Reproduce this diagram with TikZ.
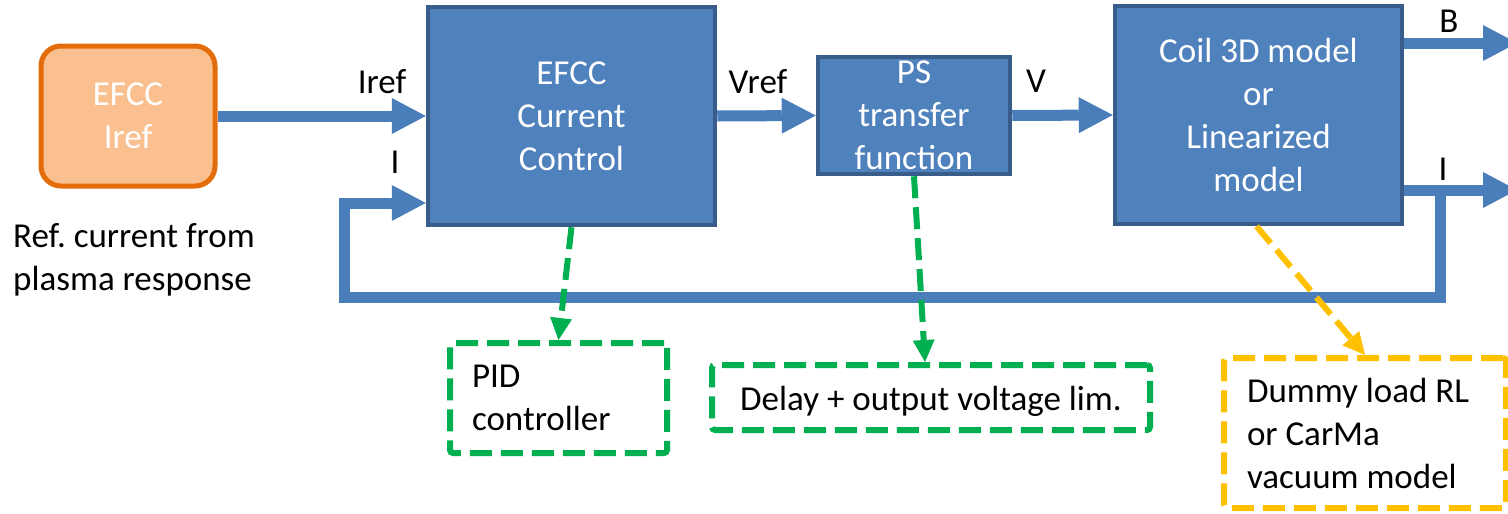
\documentclass[tikz,border=0pt]{standalone}
\usepackage{fontspec}
\setmainfont{Carlito}
\usepackage{xcolor}
\usepackage{tikz}
\usetikzlibrary{arrows.meta,positioning,calc}
\definecolor{myblue}{RGB}{79,129,189}
\definecolor{myborder}{RGB}{56,93,138}
\definecolor{mywire}{RGB}{74,126,187}
\definecolor{mypeach}{RGB}{250,192,144}
\definecolor{myorange}{RGB}{228,108,10}
\definecolor{mygreen}{RGB}{0,176,80}
\definecolor{myyellow}{RGB}{255,192,0}
\frenchspacing

\begin{document}
\begin{tikzpicture}[x=1pt, y=-1pt, font=\fontsize{35}{43}\selectfont,
    block/.style={draw=myborder, fill=myblue, line width=4.5pt, inner sep=0pt,
                  text=white, align=center},
    wire/.style={draw=mywire, line width=11pt,
                 -{Triangle[length=34pt,width=36pt,line width=0pt]}},
    note/.style={draw=#1, line width=6pt, dash pattern=on 22pt off 9pt,
                 rounded corners=3pt, inner sep=0pt},
    hint/.style={draw=#1, line width=6pt, dash pattern=on 22pt off 9pt,
                 -{Triangle[length=22pt,width=22pt,line width=0pt]}},
    sig/.style={anchor=base, inner sep=0pt}]
  \useasboundingbox (0,0) rectangle (1508,514);
  \clip (0,0) rectangle (1508,514);

  \node[draw=myorange, fill=mypeach, line width=5pt, rounded corners=20pt,
        minimum width=174pt, minimum height=140pt, inner sep=0pt,
        text=white, align=center] (src) at (128,116) {EFCC\\Iref};
  \node[anchor=north west, inner sep=0pt, align=flush left] (srctext) at (13,223)
    {Ref. current from\\plasma response};

  \node[block, minimum width=287pt, minimum height=218pt] (ctrl) at (571.5,116)
    {EFCC\\Current\\Control};
  \node[block, minimum width=192pt, minimum height=117pt] (ps) at (914,115.5)
    {PS\\transfer\\function};
  \node[block, minimum width=287pt, minimum height=218pt] (coil) at (1258.5,115)
    {Coil 3D model\\or\\Linearized\\model};

  \node[note=mygreen, minimum width=217pt, minimum height=110pt, inner xsep=22pt,
        text width=173pt, align=flush left] (pid) at (558.5,398) {PID\\controller};
  \node[note=mygreen, minimum width=438pt, minimum height=65pt,
        text height=30pt, text depth=5pt] (lim) at (931,397.5)
    {Delay + output voltage lim.};
  \node[note=myyellow, minimum width=282pt, minimum height=150pt, inner xsep=23pt,
        text width=236pt, align=flush left] (dummy) at (1365,433)
    {Dummy load RL\\or CarMa\\vacuum model};

  \node[sig] (lblIref) at (382,93) {Iref};
  \node[sig] (lblI) at (395,173) {I};
  \node[sig] (lblVref) at (758,93) {Vref};
  \node[sig] (lblV) at (1036,92) {V};
  \node[sig] (lblB) at (1449,32) {B};
  \node[sig] (lblIout) at (1443,180) {I};

  \coordinate (bout) at (1517,43);
  \coordinate (iout) at (1517,190);
  \coordinate (tap) at (1440,190);

  \draw[wire] (src.east) -- (ctrl.west);
  \draw[wire] (ctrl.east) -- (ps.west);
  \draw[wire] (ps.east) -- (coil.west);
  \draw[wire] (coil.east |- bout) -- (bout);
  \draw[wire] (coil.east |- iout) -- (iout);
  \draw[wire] (tap) |- (344,297) |- ($(ctrl.west)+(0,87)$);

  \draw[hint=mygreen] (ctrl.south) -- (pid.north);
  \draw[hint=mygreen] (ps.south) -- ([xshift=-6pt]lim.north);
  \draw[hint=myyellow] ([xshift=-2pt]coil.south) -- (dummy.north);
\end{tikzpicture}
\end{document}
